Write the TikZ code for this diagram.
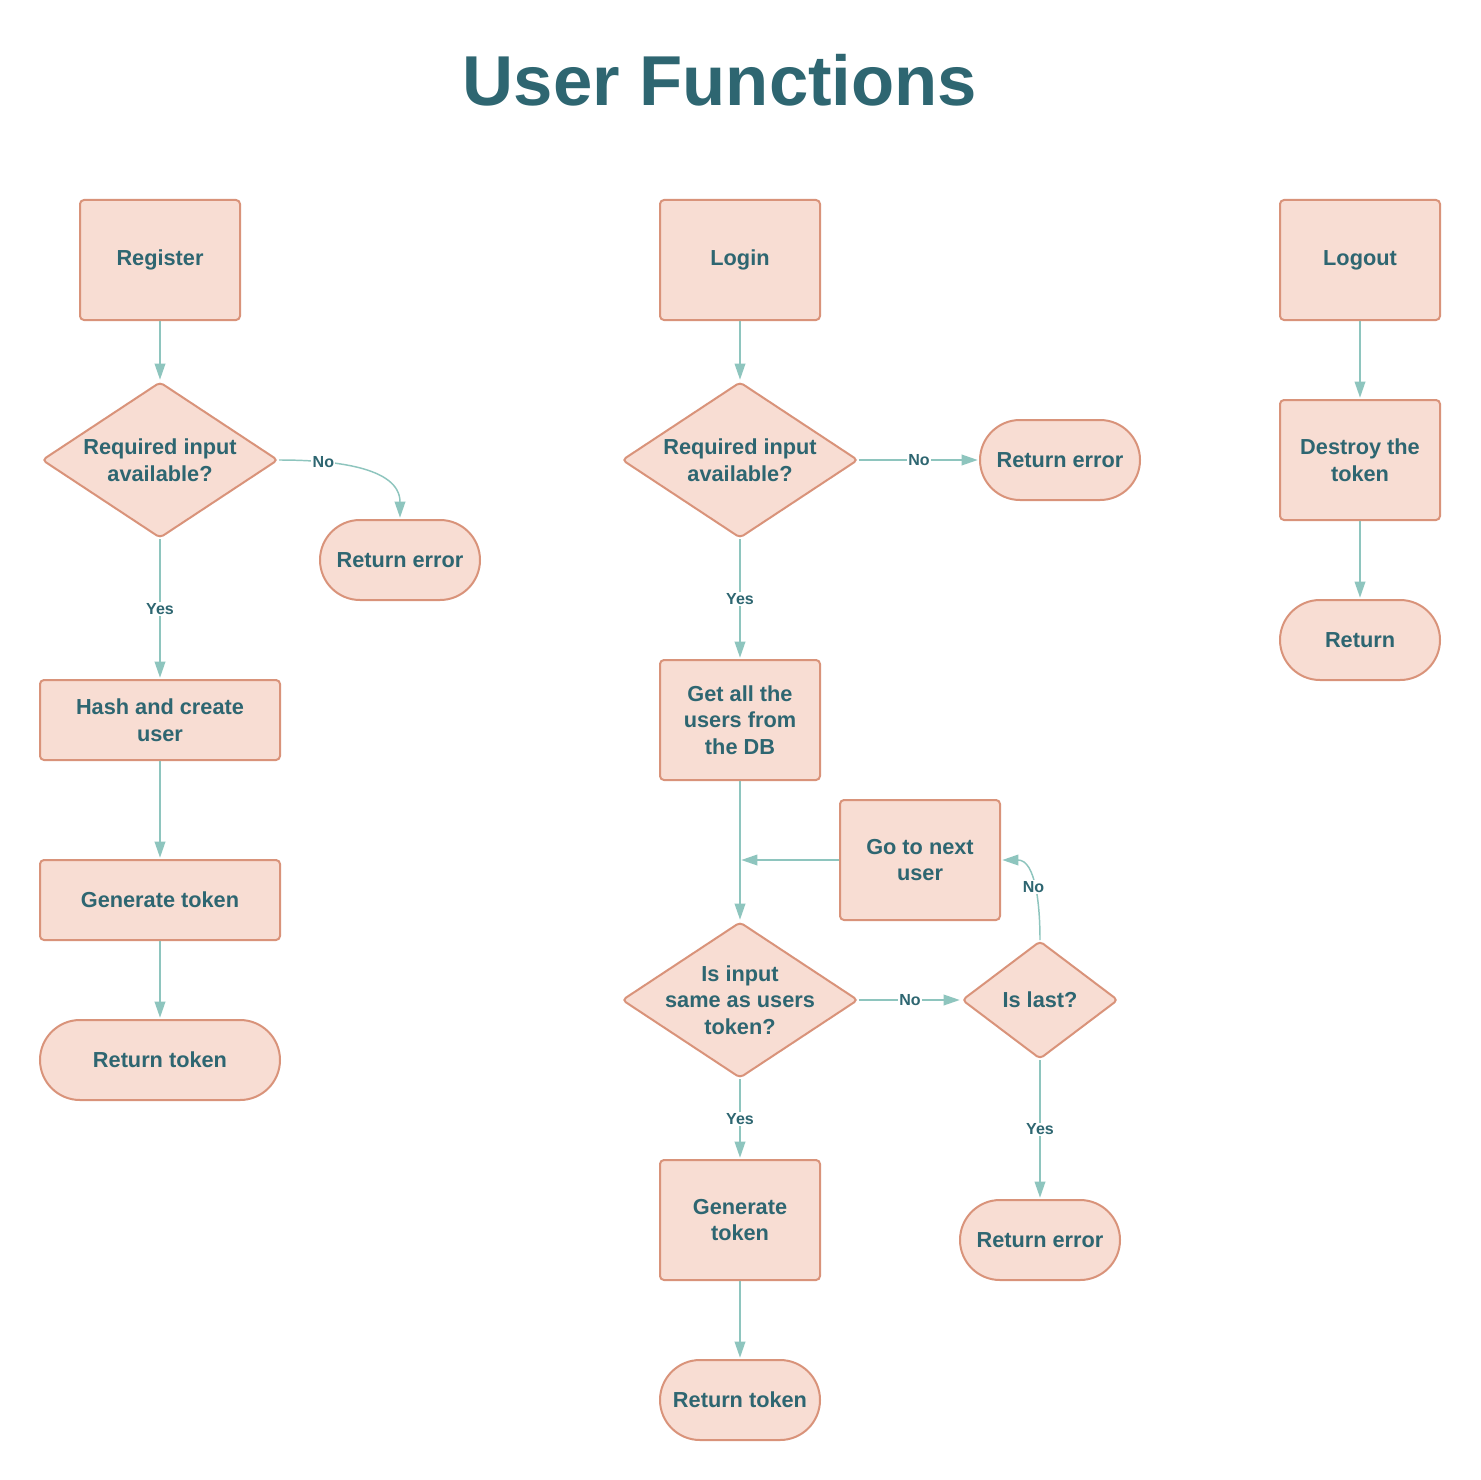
\documentclass[tikz,border=0pt]{standalone}
\usepackage{fontspec}
\setmainfont{Liberation Sans}
\usepackage[dvipsnames,svgnames]{xcolor}
\usetikzlibrary{positioning}
\usetikzlibrary{arrows.meta}
\usetikzlibrary{shapes.geometric}
\definecolor{boxfill}{HTML}{F8DDD3}
\definecolor{boxline}{HTML}{D9937A}
\definecolor{ink}{HTML}{2E6671}
\definecolor{flowline}{HTML}{8EC5BE}
\tikzset{shape base/.style={draw=boxline,fill=boxfill,line width=1.5pt,inner sep=0pt,text=ink,font=\fontsize{16.3}{20}\selectfont\bfseries,align=center}}
\tikzset{process/.style={shape base,rectangle,rounded corners=3pt,minimum width=120pt,minimum height=90pt}}
\tikzset{wideprocess/.style={process,minimum width=180pt,minimum height=60pt}}
\tikzset{terminal/.style={shape base,rectangle,rounded corners=30pt,minimum width=120pt,minimum height=60pt}}
\tikzset{decision/.style={shape base,diamond,rounded corners=3pt,minimum width=177pt,minimum height=117pt}}
\tikzset{txt/.style={text=ink,font=\fontsize{16.3}{20}\selectfont\bfseries,align=center,inner sep=0pt}}
\tikzset{flow/.style={draw=flowline,line width=1.1pt,-{Triangle[length=12pt,width=8pt]},shorten >=1pt}}
\tikzset{lbl/.style={fill=white,inner sep=1pt,text=ink,font=\fontsize{12}{14}\selectfont\bfseries}}

\begin{document}
\begin{tikzpicture}[x=0.75pt,y=-0.75pt]
    \fill[white] (0,0) rectangle (1480,1480);
    \useasboundingbox (0,0) rectangle (1480,1480);
    \node[text=ink,font=\bfseries\fontsize{53}{60}\selectfont] (title) at (720,80) {User Functions};

    % register
    \node[process] (reg) at (160,260) {Register};
    \node[decision,label={[txt]center:{Required input\\available?}}] (regask) at (160,460) {};
    \node[terminal] (regerr) at (400,560) {Return error};
    \node[wideprocess] (hash) at (160,720) {Hash and create\\user};
    \node[wideprocess] (reggen) at (160,900) {Generate token};
    \node[terminal,minimum width=180pt] (regret) at (160,1060) {Return token};
    \draw[flow] (reg) -- (regask);
    \draw[flow] (regask.east) to[out=0,in=90] node[lbl,pos=0.27]{No} (regerr.north);
    \draw[flow] (regask) -- node[lbl]{Yes} (hash);
    \draw[flow] (hash) -- (reggen);
    \draw[flow] (reggen) -- (regret);

    % login
    \node[process] (login) at (740,260) {Login};
    \node[decision,label={[txt]center:{Required input\\available?}}] (logask) at (740,460) {};
    \node[terminal] (logerr) at (1060,460) {Return error};
    \node[process] (getall) at (740,720) {Get all the\\users from\\the DB};
    \node[process] (next) at (920,860) {Go to next\\user};
    \coordinate (join) at (740,860);
    \node[decision,label={[txt]center:{Is input\\same as users\\token?}}] (same) at (740,1000) {};
    \node[decision,minimum width=117pt,minimum height=88.5pt,label={[txt]center:{Is last?}}] (last) at (1040,1000) {};
    \node[terminal] (lasterr) at (1040,1240) {Return error};
    \node[process] (loggen) at (740,1220) {Generate\\token};
    \node[terminal] (logret) at (740,1400) {Return token};
    \draw[flow] (login) -- (logask);
    \draw[flow] (logask) -- node[lbl]{No} (logerr);
    \draw[flow] (logask) -- node[lbl]{Yes} (getall);
    \draw[flow] (getall) -- (same);
    \draw[flow] (next) -- (join);
    \draw[flow] (same) -- node[lbl]{No} (last);
    \draw[flow] (last.north) to[out=90,in=0] node[lbl,pos=0.5]{No} (next.east);
    \draw[flow] (last) -- node[lbl]{Yes} (lasterr);
    \draw[flow] (same) -- node[lbl]{Yes} (loggen);
    \draw[flow] (loggen) -- (logret);

    % logout
    \node[process] (logout) at (1360,260) {Logout};
    \node[process] (destroy) at (1360,460) {Destroy the\\token};
    \node[terminal] (outret) at (1360,640) {Return};
    \draw[flow] (logout) -- (destroy);
    \draw[flow] (destroy) -- (outret);
\end{tikzpicture}
\end{document}
